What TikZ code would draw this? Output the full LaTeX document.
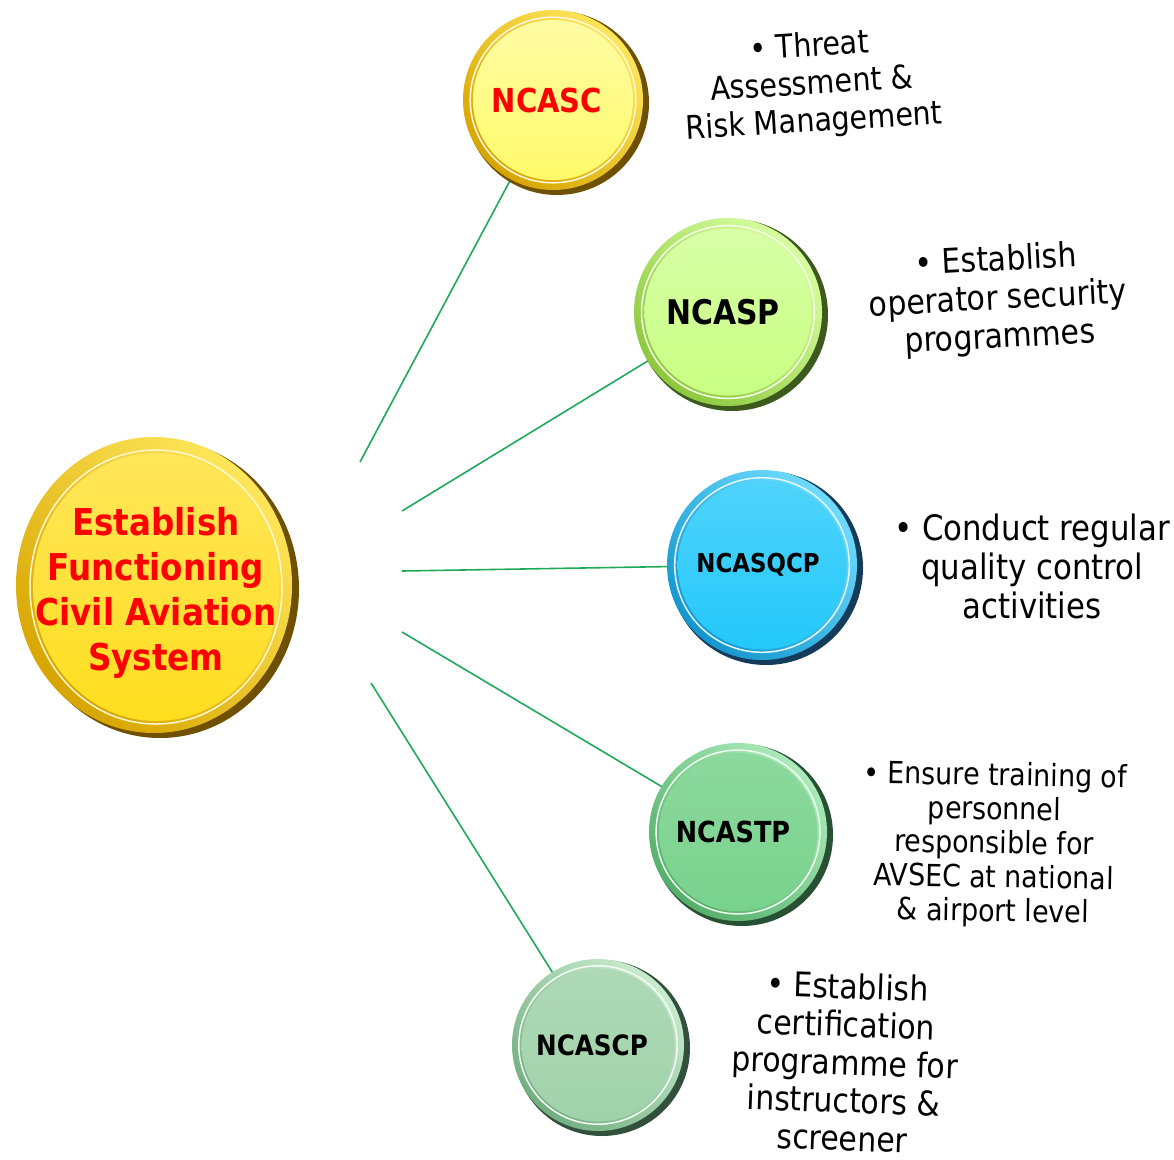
\documentclass[tikz,border=0pt]{standalone}
\usepackage{fontspec}
\setmainfont{DejaVu Sans}[FakeStretch=0.88]
\usetikzlibrary{shapes.geometric,backgrounds}
\definecolor{lgreen}{RGB}{30,170,90}
\definecolor{golddark}{RGB}{110,80,0}
\definecolor{gold}{RGB}{215,165,0}
\definecolor{goldlight}{RGB}{255,230,90}
\definecolor{yface}{RGB}{255,250,105}
\definecolor{mface}{RGB}{255,222,30}
\definecolor{pdark}{RGB}{60,90,30}
\definecolor{prim}{RGB}{140,200,60}
\definecolor{plight}{RGB}{215,255,160}
\definecolor{pface}{RGB}{200,255,130}
\definecolor{qdark}{RGB}{20,60,90}
\definecolor{qrim}{RGB}{20,150,205}
\definecolor{qlight}{RGB}{110,220,255}
\definecolor{qface}{RGB}{35,200,250}
\definecolor{tdark}{RGB}{40,80,50}
\definecolor{trim}{RGB}{85,175,105}
\definecolor{tlight}{RGB}{170,235,185}
\definecolor{tface}{RGB}{120,210,140}
\definecolor{cdark}{RGB}{50,80,60}
\definecolor{crim}{RGB}{115,175,130}
\definecolor{clight}{RGB}{200,235,205}
\definecolor{cface}{RGB}{160,210,170}
% #1 x, #2 y, #3 r, #4 dark, #5 rim, #6 rim light
\newcommand\drawbtn[6]{%
  \fill[#4] (#1+4,#2+3) circle [radius=#3pt];
  \shade[left color=#6, right color=#5, shading angle=-45] (#1,#2) circle [radius={(#3-2)*1pt}];
  \draw[white!80!#6, line width=1.5pt] (#1,#2) circle [radius={0.9*#3*1pt}];
}
\begin{document}
\begin{tikzpicture}[x=1pt,y=-1pt,
  conn/.style={draw=lgreen, line width=1.6pt},
  btnface/.style={circle, inner sep=0pt, shade, font=\bfseries},
  desc/.style={align=center, inner sep=0pt, text=black}]
\useasboundingbox (0,0) rectangle (1174,1159);

% central button
\fill[golddark] (160,589) ellipse [x radius=139pt, y radius=149pt];
\shade[left color=goldlight, right color=gold, shading angle=-45] (154,585) ellipse [x radius=138pt, y radius=148pt];
\draw[white!70!goldlight, line width=1.5pt] (156,587) ellipse [x radius=126pt, y radius=137pt];
\shade[top color=goldlight, bottom color=mface] (156,587) ellipse [x radius=123pt, y radius=134pt];
\node[inner sep=0pt, text=red, align=center, font=\bfseries\fontsize{37}{45}\selectfont] (main) at (156,593)
  {Establish\\Functioning\\Civil Aviation\\System};

% buttons
\drawbtn{553}{100}{92}{golddark}{gold}{goldlight}
\node[btnface, top color=yface!60!white, bottom color=yface, minimum size={1.74*92pt},
  text=red, font=\bfseries\fontsize{33}{33}\selectfont] (ncasc) at (553,100) {\hspace*{-12pt}NCASC};

\drawbtn{728}{312}{96}{pdark}{prim}{plight}
\node[btnface, top color=pface!70!white, bottom color=pface, minimum size={1.74*96pt},
  font=\bfseries\fontsize{34}{34}\selectfont] (ncasp) at (728,312) {\hspace*{-10pt}NCASP};

\drawbtn{762}{565}{97}{qdark}{qrim}{qlight}
\node[btnface, top color=qface!80!white, bottom color=qface, minimum size={1.74*97pt},
  font=\bfseries\fontsize{26}{26}\selectfont] (ncasqcp) at (762,565) {\hspace*{-8pt}NCASQCP};

\drawbtn{738}{832}{91}{tdark}{trim}{tlight}
\node[btnface, top color=tface!85!white, bottom color=tface, minimum size={1.74*91pt},
  font=\bfseries\fontsize{29}{29}\selectfont] (ncastp) at (738,832) {\hspace*{-10pt}NCASTP};

\drawbtn{598}{1045}{88}{cdark}{crim}{clight}
\node[btnface, top color=cface!85!white, bottom color=cface, minimum size={1.74*88pt},
  font=\bfseries\fontsize{28}{28}\selectfont] (ncascp) at (598,1045) {\hspace*{-12pt}NCASCP};

% connectors
\coordinate (s1) at (360,462);
\coordinate (s2) at (402,511);
\coordinate (s3) at (402,571);
\coordinate (s4) at (402,632);
\coordinate (s5) at (371,683);
\begin{scope}[on background layer]
\draw[conn] (s1) -- (ncasc.center);
\draw[conn] (s2) -- (ncasp.center);
\draw[conn] (s3) -- (ncasqcp.center);
\draw[conn] (s4) -- (ncastp.center);
\draw[conn] (s5) -- (ncascp.center);
\end{scope}

% descriptions
\node[desc, rotate=3.5, font=\fontsize{32.5}{37.5}\selectfont] (d1) at (812,85)
  {• Threat\\Assessment \&\\Risk Management};
\node[desc, rotate=3, font=\fontsize{34}{38.5}\selectfont] (d2) at (998,300)
  {• Establish\\operator security\\programmes};
\node[desc, font=\fontsize{35}{39}\selectfont] (d3) at (1032,566)
  {• Conduct regular\\quality control\\activities};
\node[desc, rotate=-1, font=\fontsize{30.5}{34}\selectfont] (d4) at (994,845)
  {• Ensure training of\\personnel\\responsible for\\AVSEC at national\\\& airport level};
\node[desc, rotate=-2, font=\fontsize{34}{38}\selectfont] (d5) at (845,1062)
  {• Establish\\certification\\programme for\\instructors \&\\screener};
\end{tikzpicture}
\end{document}
